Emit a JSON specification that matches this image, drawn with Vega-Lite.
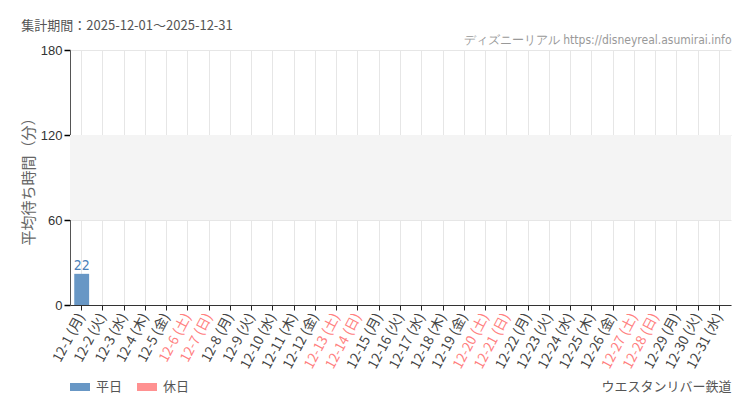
{
  "$schema": "https://vega.github.io/schema/vega-lite/v6.json",
  "width": 661,
  "height": 255,
  "autosize": {"type": "none"},
  "padding": {"left": 70, "top": 50, "right": 19, "bottom": 105},
  "background": "#ffffff",
  "config": {
    "font": "Noto Sans CJK JP",
    "view": {"stroke": null}
  },
  "title": {
    "text": "集計期間：2025-12-01～2025-12-31",
    "anchor": "start",
    "frame": "bounds",
    "fontSize": 13,
    "fontWeight": "normal",
    "color": "#555555",
    "offset": 0
  },
  "data": {
    "values": [
      {"date": "12-1 (月)", "type": "平日", "value": 22},
      {"date": "12-2 (火)", "type": "平日", "value": null},
      {"date": "12-3 (水)", "type": "平日", "value": null},
      {"date": "12-4 (木)", "type": "平日", "value": null},
      {"date": "12-5 (金)", "type": "平日", "value": null},
      {"date": "12-6 (土)", "type": "休日", "value": null},
      {"date": "12-7 (日)", "type": "休日", "value": null},
      {"date": "12-8 (月)", "type": "平日", "value": null},
      {"date": "12-9 (火)", "type": "平日", "value": null},
      {"date": "12-10 (水)", "type": "平日", "value": null},
      {"date": "12-11 (木)", "type": "平日", "value": null},
      {"date": "12-12 (金)", "type": "平日", "value": null},
      {"date": "12-13 (土)", "type": "休日", "value": null},
      {"date": "12-14 (日)", "type": "休日", "value": null},
      {"date": "12-15 (月)", "type": "平日", "value": null},
      {"date": "12-16 (火)", "type": "平日", "value": null},
      {"date": "12-17 (水)", "type": "平日", "value": null},
      {"date": "12-18 (木)", "type": "平日", "value": null},
      {"date": "12-19 (金)", "type": "平日", "value": null},
      {"date": "12-20 (土)", "type": "休日", "value": null},
      {"date": "12-21 (日)", "type": "休日", "value": null},
      {"date": "12-22 (月)", "type": "平日", "value": null},
      {"date": "12-23 (火)", "type": "平日", "value": null},
      {"date": "12-24 (水)", "type": "平日", "value": null},
      {"date": "12-25 (木)", "type": "平日", "value": null},
      {"date": "12-26 (金)", "type": "平日", "value": null},
      {"date": "12-27 (土)", "type": "休日", "value": null},
      {"date": "12-28 (日)", "type": "休日", "value": null},
      {"date": "12-29 (月)", "type": "平日", "value": null},
      {"date": "12-30 (火)", "type": "平日", "value": null},
      {"date": "12-31 (水)", "type": "平日", "value": null}
    ]
  },
  "encoding": {
    "y": {
      "field": "value",
      "type": "quantitative",
      "scale": {"domain": [0, 180], "nice": false},
      "axis": {
        "title": "平均待ち時間（分）",
        "titleFontSize": 15,
        "titleFontWeight": "normal",
        "titleColor": "#666666",
        "titlePadding": 4,
        "values": [0, 60, 120, 180],
        "labelFontSize": 13,
        "labelColor": "#333333",
        "labelFont": "Liberation Sans",
        "labelPadding": 2,
        "domainColor": "#555555",
        "ticks": true,
        "tickSize": 6,
        "tickWidth": 1.5,
        "tickColor": "#000000",
        "tickOpacity": 1,
        "grid": true,
        "gridColor": "#e6e6e6"
      }
    }
  },
  "resolve": {"axis": {"x": "independent"}},
  "layer": [
    {
      "data": {"values": [{"value": 60, "value2": 120}]},
      "mark": {"type": "rect", "color": "#f4f4f4"},
      "encoding": {
        "y2": {"field": "value2"}
      }
    },
    {
      "mark": {"type": "bar"},
      "encoding": {
        "x": {
          "field": "date",
          "type": "nominal",
          "sort": null,
          "scale": {
            "domain": ["12-1 (月)","12-2 (火)","12-3 (水)","12-4 (木)","12-5 (金)","12-6 (土)","12-7 (日)","12-8 (月)","12-9 (火)","12-10 (水)","12-11 (木)","12-12 (金)","12-13 (土)","12-14 (日)","12-15 (月)","12-16 (火)","12-17 (水)","12-18 (木)","12-19 (金)","12-20 (土)","12-21 (日)","12-22 (月)","12-23 (火)","12-24 (水)","12-25 (木)","12-26 (金)","12-27 (土)","12-28 (日)","12-29 (月)","12-30 (火)","12-31 (水)"],
            "paddingInner": 0.3,
            "paddingOuter": 0.2
          },
          "axis": {
            "title": "ウエスタンリバー鉄道",
            "titleAnchor": "end",
            "titleFontSize": 13,
            "titleFontWeight": "normal",
            "titleColor": "#555555",
            "titlePadding": 10,
            "labelAngle": -62,
            "labelAlign": "right",
            "labelBaseline": "middle",
            "labelFontSize": 13.5,
            "labelPadding": 4,
            "labelColor": {"condition": {"test": "test(/[土日]/, datum.value)", "value": "#ff8080"}, "value": "#444444"},
            "domainColor": "#333333",
            "tickColor": "#222222",
            "tickSize": 5,
            "grid": true,
            "gridColor": "#e6e6e6"
          }
        },
        "color": {
          "field": "type",
          "type": "nominal",
          "scale": {"domain": ["平日", "休日"], "range": ["#6897c5", "#ff9191"]},
          "legend": {
            "title": null,
            "orient": "none",
            "legendX": 0,
            "legendY": 327,
            "direction": "horizontal",
            "symbolType": "M-1,-0.4H1V0.4H-1Z",
            "symbolSize": 400,
            "symbolStrokeWidth": 0,
            "labelFontSize": 13,
            "labelColor": "#555555",
            "columnPadding": 14,
            "labelOffset": 6
          }
        }
      }
    },
    {
      "mark": {"type": "text", "dy": -8, "fontSize": 14, "font": "DejaVu Sans Condensed", "color": "#4a80b8"},
      "encoding": {
        "x": {
          "field": "date",
          "type": "nominal",
          "sort": null,
          "axis": {
            "orient": "top",
            "title": "ディズニーリアル https://disneyreal.asumirai.info",
            "titleAnchor": "end",
            "titleFont": "DejaVu Sans Condensed",
            "titleFontSize": 12,
            "titleFontWeight": "normal",
            "titleColor": "#999999",
            "titlePadding": 4,
            "labels": false,
            "ticks": false,
            "domain": false,
            "grid": false
          }
        },
        "text": {"field": "value", "type": "quantitative"}
      }
    }
  ]
}
